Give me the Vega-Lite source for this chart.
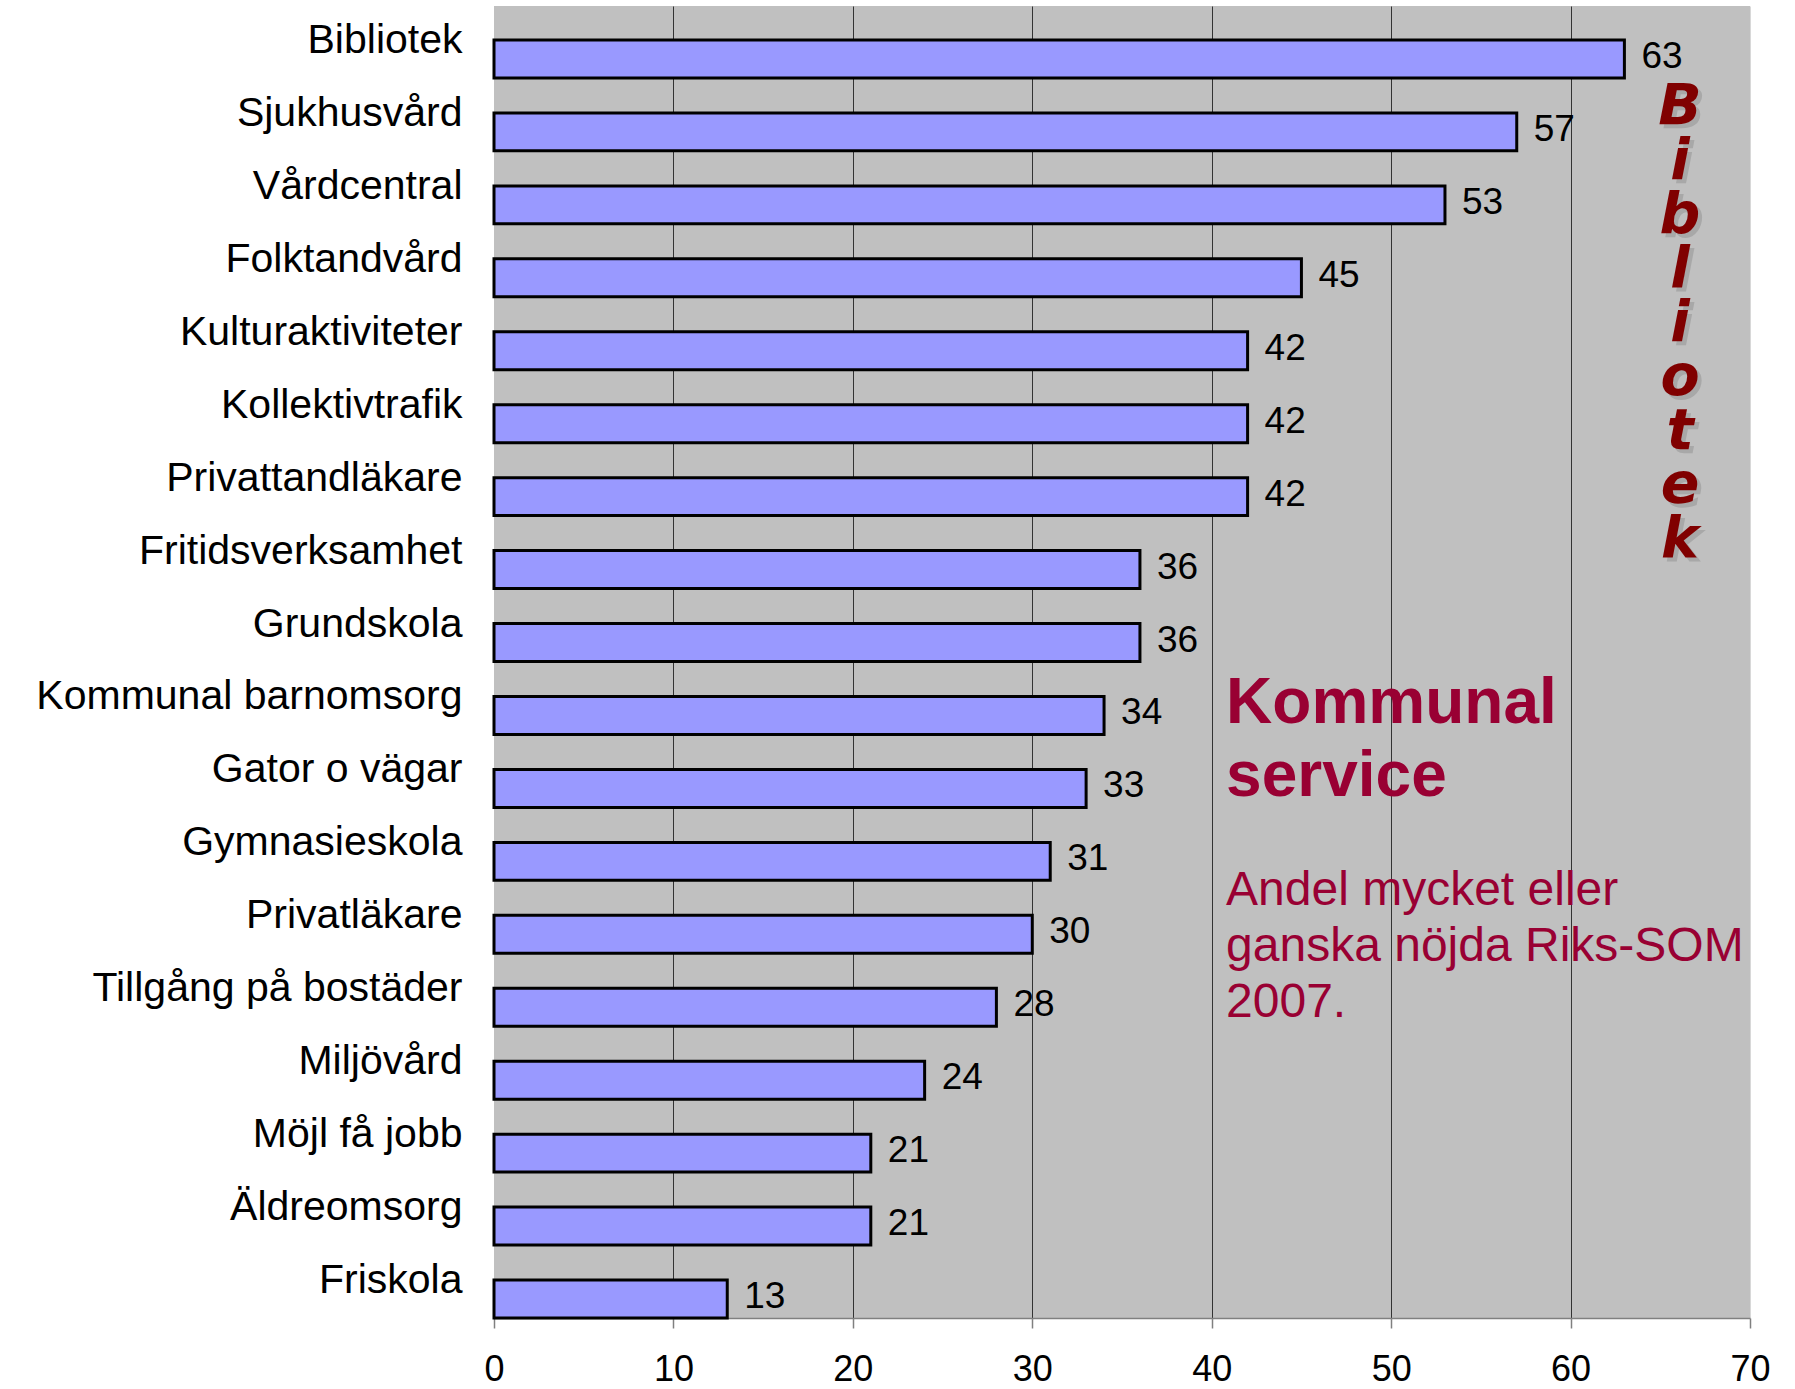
{
  "$schema": "https://vega.github.io/schema/vega-lite/v6.json",
  "width": 1256,
  "height": 1312,
  "autosize": {"type": "none"},
  "padding": {"left": 494, "top": 6, "right": 45, "bottom": 71},
  "background": "white",
  "config": {"view": {"fill": "#C0C0C0", "stroke": null}, "font": "Liberation Sans"},
  "data": {"values": [
    {"service": "Bibliotek", "value": 63},
    {"service": "Sjukhusvård", "value": 57},
    {"service": "Vårdcentral", "value": 53},
    {"service": "Folktandvård", "value": 45},
    {"service": "Kulturaktiviteter", "value": 42},
    {"service": "Kollektivtrafik", "value": 42},
    {"service": "Privattandläkare", "value": 42},
    {"service": "Fritidsverksamhet", "value": 36},
    {"service": "Grundskola", "value": 36},
    {"service": "Kommunal barnomsorg", "value": 34},
    {"service": "Gator o vägar", "value": 33},
    {"service": "Gymnasieskola", "value": 31},
    {"service": "Privatläkare", "value": 30},
    {"service": "Tillgång på bostäder", "value": 28},
    {"service": "Miljövård", "value": 24},
    {"service": "Möjl få jobb", "value": 21},
    {"service": "Äldreomsorg", "value": 21},
    {"service": "Friskola", "value": 13}
  ]},
  "layer": [
    {
      "mark": {"type": "bar", "fill": "#9999FF", "stroke": "#000000", "strokeWidth": 3},
      "encoding": {
        "y": {
          "field": "service", "type": "nominal", "sort": null,
          "scale": {"paddingInner": 0.48, "paddingOuter": 0.233, "align": 1},
          "axis": {
            "title": null, "ticks": false, "domain": false, "grid": false,
            "labelFontSize": 41, "labelColor": "#000000", "labelPadding": 32,
            "labelOffset": -18, "labelLimit": 800, "labelFont": "Liberation Sans"
          }
        },
        "x": {
          "field": "value", "type": "quantitative",
          "scale": {"domain": [0, 70], "nice": false, "zero": true},
          "axis": {
            "title": null, "values": [0, 10, 20, 30, 40, 50, 60, 70],
            "labelFontSize": 36, "labelColor": "#000000", "labelPadding": 24,
            "labelFont": "Liberation Sans", "labelFlush": false, "labelOverlap": false,
            "tickSize": 10, "tickColor": "#808080", "tickWidth": 1.5,
            "domainColor": "#808080", "domainWidth": 1.5,
            "grid": true, "gridWidth": 1,
            "gridColor": {"condition": [
              {"test": "datum.value === 0", "value": "transparent"},
              {"test": "datum.value === 70", "value": "#D8D8D8"}
            ], "value": "#333333"}
          }
        }
      }
    },
    {
      "mark": {"type": "text", "align": "left", "baseline": "middle", "dx": 17, "dy": -2, "fontSize": 37, "color": "#000000", "font": "Liberation Sans"},
      "encoding": {
        "y": {"field": "service", "type": "nominal", "sort": null},
        "x": {"field": "value", "type": "quantitative"},
        "text": {"field": "value", "type": "quantitative"}
      }
    },
    {
      "data": {"values": [{}]},
      "mark": {"type": "text", "text": ["Kommunal", "service"], "align": "left", "baseline": "alphabetic", "dy": 8, "lineHeight": 73, "fontSize": 64, "fontWeight": "bold", "color": "#990033", "font": "Liberation Sans"},
      "encoding": {
        "x": {"datum": 40.8, "type": "quantitative"},
        "y": {"datum": "Kommunal barnomsorg", "type": "nominal"}
      }
    },
    {
      "data": {"values": [{}]},
      "mark": {"type": "text", "text": ["Andel mycket eller", "ganska nöjda Riks-SOM", "2007."], "align": "left", "baseline": "alphabetic", "dy": -29, "lineHeight": 56, "fontSize": 48, "color": "#990033", "font": "Liberation Sans"},
      "encoding": {
        "x": {"datum": 40.8, "type": "quantitative"},
        "y": {"datum": "Privatläkare", "type": "nominal"}
      }
    },
    {
      "data": {"values": [{}]},
      "mark": {"type": "text", "text": ["B", "i", "b", "l", "i", "o", "t", "e", "k"], "align": "center", "baseline": "alphabetic", "dx": 4, "dy": -3, "lineHeight": 54, "fontSize": 57, "fontWeight": "bold", "fontStyle": "italic", "color": "#A8A8A8", "font": "DejaVu Sans"},
      "encoding": {
        "x": {"datum": 66.1, "type": "quantitative"},
        "y": {"datum": "Sjukhusvård", "type": "nominal"}
      }
    },
    {
      "data": {"values": [{}]},
      "mark": {"type": "text", "text": ["B", "i", "b", "l", "i", "o", "t", "e", "k"], "align": "center", "baseline": "alphabetic", "dy": -7, "lineHeight": 54, "fontSize": 57, "fontWeight": "bold", "fontStyle": "italic", "color": "#800000", "font": "DejaVu Sans"},
      "encoding": {
        "x": {"datum": 66.1, "type": "quantitative"},
        "y": {"datum": "Sjukhusvård", "type": "nominal"}
      }
    }
  ]
}
